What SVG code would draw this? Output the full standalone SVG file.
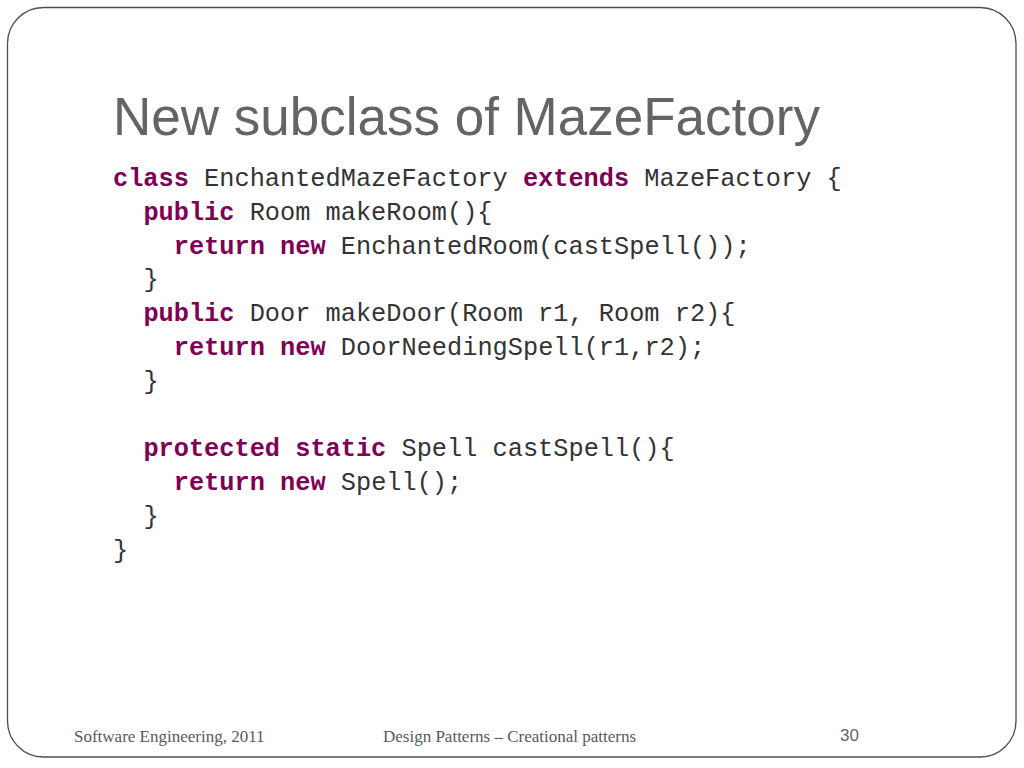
<svg xmlns="http://www.w3.org/2000/svg" width="1024" height="768" viewBox="0 0 1024 768">
<style>
.code{font-family:"Liberation Mono","Courier New",monospace;font-size:25.3px;fill:#333333}
.kw{font-weight:bold;fill:#7f0055}
.foot{font-family:"Liberation Serif","Times New Roman",serif;font-size:17px;fill:#595959}
</style>
<rect x="0" y="0" width="1024" height="768" fill="#ffffff"/>
<rect id="frame" x="7.5" y="7.5" width="1008.5" height="749.5" rx="36" ry="36" fill="none" stroke="#4d4d4d" stroke-width="1.3"/>
<text id="title" x="113" y="135" font-family="Liberation Sans, Arial, sans-serif" font-size="53" fill="#666366">New subclass of MazeFactory</text>
<g id="code" class="code">
<text x="113" y="186" xml:space="preserve"><tspan class="kw">class</tspan> EnchantedMazeFactory <tspan class="kw">extends</tspan> MazeFactory {</text>
<text x="143.4" y="219.8" xml:space="preserve"><tspan class="kw">public</tspan> Room makeRoom(){</text>
<text x="173.8" y="253.6" xml:space="preserve"><tspan class="kw">return new</tspan> EnchantedRoom(castSpell());</text>
<text x="143.4" y="287.4">}</text>
<text x="143.4" y="321.2" xml:space="preserve"><tspan class="kw">public</tspan> Door makeDoor(Room r1, Room r2){</text>
<text x="173.8" y="355" xml:space="preserve"><tspan class="kw">return new</tspan> DoorNeedingSpell(r1,r2);</text>
<text x="143.4" y="388.8">}</text>
<text x="143.4" y="456.4" xml:space="preserve"><tspan class="kw">protected static</tspan> Spell castSpell(){</text>
<text x="173.8" y="490.2" xml:space="preserve"><tspan class="kw">return new</tspan> Spell();</text>
<text x="143.4" y="524">}</text>
<text x="113" y="557.8">}</text>
</g>
<g id="footer">
<text class="foot" x="74" y="742">Software Engineering, 2011</text>
<text class="foot" x="383" y="742">Design Patterns – Creational patterns</text>
<text x="840" y="741" font-family="Liberation Sans, Arial, sans-serif" font-size="17" fill="#666366">30</text>
</g>
</svg>
